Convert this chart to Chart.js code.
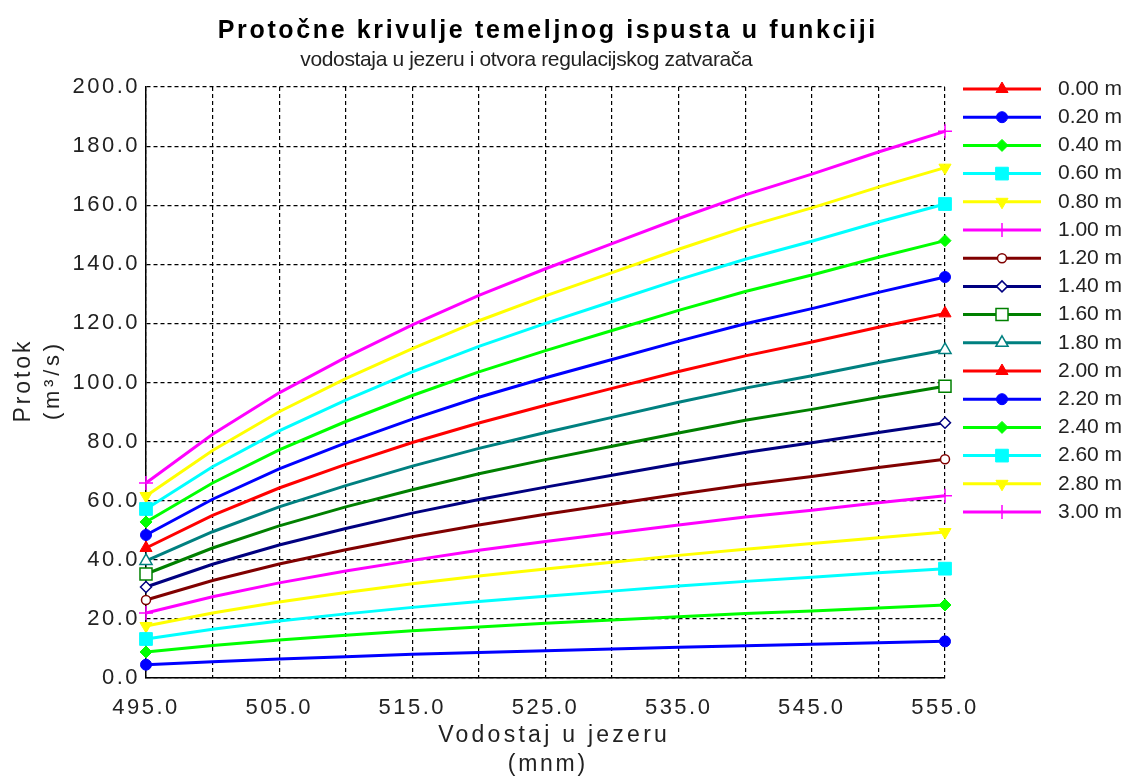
<!DOCTYPE html>
<html>
<head>
<meta charset="utf-8">
<script src="https://cdn.jsdelivr.net/npm/chart.js@4.4.0/dist/chart.umd.min.js"></script>
<style>
  html, body { margin: 0; padding: 0; background: #fff; }
  #platno { display: block; }
</style>
</head>
<body>
<canvas id="platno" width="1126" height="777"></canvas>
<script>
// vodostaj u jezeru (mnm)
const vodostaj = [495, 500, 505, 510, 515, 520, 525, 530, 535, 540, 545, 550, 555];

// otvor regulacijskog zatvarača
const otvori = ["0.00 m", "0.20 m", "0.40 m", "0.60 m", "0.80 m", "1.00 m", "1.20 m", "1.40 m",
                "1.60 m", "1.80 m", "2.00 m", "2.20 m", "2.40 m", "2.60 m", "2.80 m", "3.00 m"];

// protok (m3/s) po otvoru
const q000 = [null, null, null, null, null, null, null, null, null, null, null, null, null];
const q020 = [4.5, 5.5, 6.4, 7.2, 8.0, 8.6, 9.2, 9.8, 10.4, 10.9, 11.4, 11.9, 12.4];
const q040 = [8.8, 11.0, 12.9, 14.5, 16.0, 17.3, 18.5, 19.6, 20.7, 21.8, 22.7, 23.7, 24.7];
const q060 = [13.2, 16.5, 19.3, 21.7, 23.9, 25.9, 27.7, 29.4, 31.1, 32.7, 34.1, 35.6, 37.0];
const q080 = [17.6, 22.0, 25.7, 28.9, 31.9, 34.5, 36.9, 39.2, 41.5, 43.6, 45.5, 47.5, 49.4];
const q100 = [22.0, 27.5, 32.2, 36.2, 39.8, 43.2, 46.2, 49.0, 51.8, 54.5, 56.8, 59.3, 61.7];
const q120 = [26.4, 33.0, 38.6, 43.4, 47.8, 51.8, 55.4, 58.8, 62.2, 65.4, 68.2, 71.2, 74.0];
const q140 = [30.8, 38.5, 45.0, 50.6, 55.8, 60.4, 64.6, 68.6, 72.6, 76.3, 79.6, 83.1, 86.4];
const q160 = [35.2, 44.0, 51.5, 57.9, 63.7, 69.1, 73.9, 78.4, 82.9, 87.2, 90.9, 94.9, 98.7];
const q180 = [39.6, 49.5, 57.9, 65.1, 71.7, 77.7, 83.1, 88.2, 93.3, 98.1, 102.3, 106.8, 111.0];
const q200 = [44.0, 55.0, 64.3, 72.3, 79.7, 86.3, 92.3, 98.0, 103.7, 109.0, 113.7, 118.7, 123.4];
const q220 = [48.4, 60.5, 70.8, 79.6, 87.6, 95.0, 101.6, 107.8, 114.0, 119.9, 125.0, 130.5, 135.7];
const q240 = [52.8, 66.0, 77.2, 86.8, 95.6, 103.6, 110.8, 117.6, 124.4, 130.8, 136.4, 142.4, 148.0];
const q260 = [57.2, 71.5, 83.6, 94.0, 103.6, 112.2, 120.0, 127.4, 134.8, 141.7, 147.8, 154.3, 160.4];
const q280 = [61.6, 77.0, 90.1, 101.3, 111.5, 120.9, 129.3, 137.2, 145.1, 152.6, 159.1, 166.1, 172.7];
const q300 = [66.0, 82.5, 96.5, 108.5, 119.5, 129.5, 138.5, 147.0, 155.5, 163.5, 170.5, 178.0, 185.0];

const protoci = [q000, q020, q040, q060, q080, q100, q120, q140, q160, q180, q200, q220, q240, q260, q280, q300];

// stil linija i markera (MATLAB paleta)
const boje = ["#ff0000", "#0000ff", "#00ff00", "#00ffff", "#ffff00", "#ff00ff", "#800000", "#000080",
              "#008000", "#008080", "#ff0000", "#0000ff", "#00ff00", "#00ffff", "#ffff00", "#ff00ff"];
const oblici = ["triangle", "circle", "rectRot", "rect", "triangle", "cross", "circle", "rectRot",
                "rect", "triangle", "triangle", "circle", "rectRot", "rect", "triangle", "cross"];
const puni = [true, true, true, true, true, false, false, false, false, false, true, true, true, true, true, false];
const rotacije = [0, 0, 0, 0, 180, 0, 0, 0, 0, 0, 0, 0, 0, 0, 180, 0];
const velicine = [7, 5.5, 6, 9, 7, 7, 4.5, 5.5, 8.5, 7, 7, 5.5, 6, 9, 7, 7];

const FONT = "'Liberation Sans', Arial, Helvetica, sans-serif";
const TEKST = "#222222";

function tekst(ctx, s, x, y, velicina, tezina, sirina, poravnanje) {
  ctx.save();
  ctx.font = `${tezina} ${velicina}px ${FONT}`;
  ctx.letterSpacing = "0px";
  let razmak = 0;
  if (sirina) razmak = (sirina - ctx.measureText(s).width) / s.length;
  ctx.letterSpacing = razmak + "px";
  ctx.textAlign = poravnanje || "center";
  ctx.textBaseline = "middle";
  ctx.fillText(s, x + (poravnanje === "left" ? 0 : razmak / 2), y);
  ctx.restore();
}

const natpisi = {
  id: "natpisi",
  beforeDraw(chart) {
    chart.ctx.letterSpacing = "2.5px";
  },
  afterDraw(chart) {
    const ctx = chart.ctx;
    const ca = chart.chartArea;
    const sred = (ca.left + ca.right) / 2;
    ctx.save();
    ctx.fillStyle = "#000";
    tekst(ctx, "Protočne krivulje temeljnog ispusta u funkciji", sred + 1, 31, 25, "bold", 660);
    ctx.fillStyle = TEKST;
    tekst(ctx, "vodostaja u jezeru i otvora regulacijskog zatvarača", sred - 19, 60, 21, "normal", 452);
    tekst(ctx, "Vodostaj u jezeru", sred + 7, 736, 23, "normal", 232);
    tekst(ctx, "(mnm)", sred + 1, 765, 23, "normal", 80);

    ctx.save();
    ctx.translate(24, 382);
    ctx.rotate(-Math.PI / 2);
    tekst(ctx, "Protok", 0, 0, 23, "normal", 84);
    ctx.restore();
    ctx.save();
    ctx.translate(53, 382);
    ctx.rotate(-Math.PI / 2);
    tekst(ctx, "(m³/s)", 0, 0, 22, "normal", 80);
    ctx.restore();

    // legenda: linija + marker + tekst
    chart.data.datasets.forEach((ds, i) => {
      const y = 89 + i * 28.2;
      ctx.save();
      ctx.strokeStyle = ds.borderColor;
      ctx.lineWidth = 3;
      ctx.beginPath();
      ctx.moveTo(963, y);
      ctx.lineTo(1041, y);
      ctx.stroke();
      ctx.fillStyle = ds.pointBackgroundColor;
      ctx.strokeStyle = ds.borderColor;
      ctx.lineWidth = ds.pointBorderWidth;
      Chart.helpers.drawPoint(ctx, {
        pointStyle: ds.pointStyle,
        rotation: ds.pointRotation,
        radius: velicine[i],
        borderWidth: ds.pointBorderWidth,
      }, 1002, y);
      ctx.restore();
      ctx.fillStyle = TEKST;
      tekst(ctx, ds.label, 1058, y, 21, "normal", 64, "left");
    });
    ctx.restore();
  },
};

const skupovi = otvori.map((naziv, i) => ({
  label: naziv,
  data: vodostaj.map((x, j) => ({ x: x, y: protoci[i][j] })),
  borderColor: boje[i],
  backgroundColor: boje[i],
  borderWidth: 3,
  tension: 0,
  clip: false,
  pointStyle: oblici[i],
  pointRotation: rotacije[i],
  pointBackgroundColor: puni[i] ? boje[i] : "#ffffff",
  pointBorderColor: boje[i],
  pointBorderWidth: puni[i] ? 1 : 1.5,
  pointRadius: (c) => (c.dataIndex === 0 || c.dataIndex === vodostaj.length - 1 ? velicine[i] : 0),
  pointHoverRadius: 0,
}));

new Chart(document.getElementById("platno"), {
  type: "line",
  data: { datasets: skupovi },
  options: {
    responsive: false,
    animation: false,
    devicePixelRatio: 1,
    layout: { padding: { left: 0, top: 87, right: 181, bottom: 0 } },
    plugins: {
      legend: { display: false },
      title: { display: false },
      tooltip: { enabled: false },
    },
    scales: {
      x: {
        type: "linear",
        min: 495,
        max: 555,
        afterFit: (s) => { s.height = 99; },
        ticks: {
          stepSize: 5,
          autoSkip: false,
          maxRotation: 0,
          padding: 17,
          color: TEKST,
          font: { family: FONT, size: 22 },
          callback: (v) => ((v - 495) % 10 === 0 ? v.toFixed(1) : ""),
        },
        grid: { color: "#000", lineWidth: 1.2, drawTicks: false },
        border: { display: true, color: "#000", width: 1.5, dash: [4, 3] },
      },
      y: {
        min: 0,
        max: 200,
        afterFit: (s) => { s.width = 146; },
        ticks: {
          stepSize: 20,
          padding: 6,
          color: TEKST,
          font: { family: FONT, size: 22 },
          callback: (v) => v.toFixed(1),
        },
        grid: { color: "#000", lineWidth: 1.2, drawTicks: false },
        border: { display: true, color: "#000", width: 1.5, dash: [4, 3] },
      },
    },
  },
  plugins: [natpisi],
});
</script>
</body>
</html>
